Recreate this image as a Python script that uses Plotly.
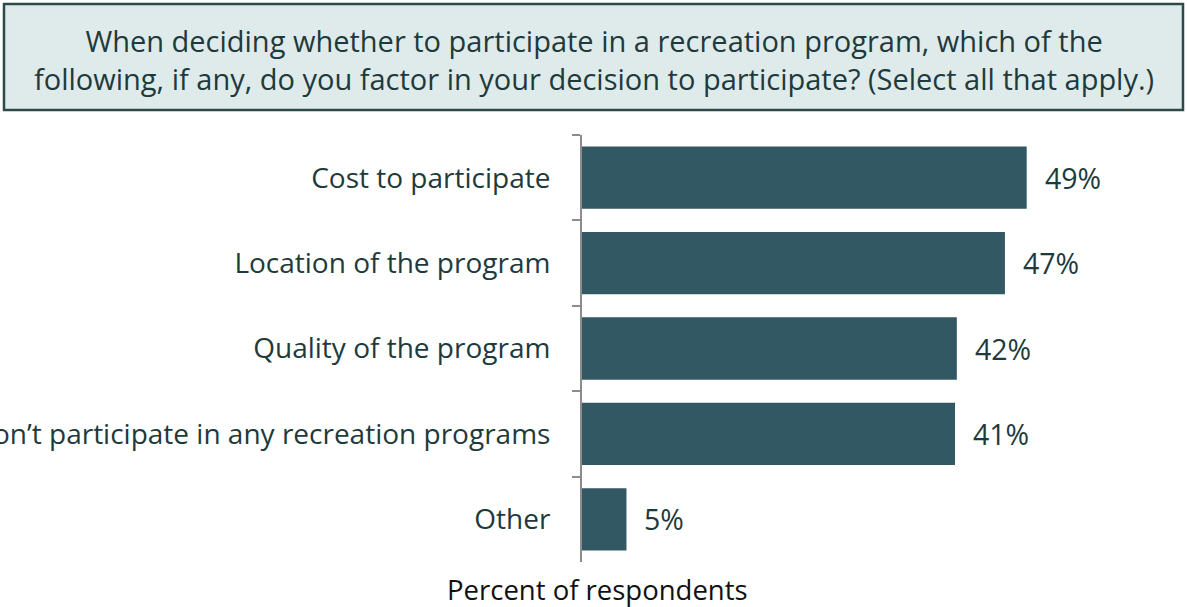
import plotly.graph_objects as go

categories = [
    "Cost to participate",
    "Location of the program",
    "Quality of the program",
    "I don\u2019t participate in any recreation programs",
    "Other",
]
values = [0.490, 0.466, 0.413, 0.411, 0.049]
value_labels = ["49%", "47%", "42%", "41%", "5%"]

title_text = ("When deciding whether to participate in a recreation program, which of the<br>"
              "following, if any, do you factor in your decision to participate? (Select all that apply.)")
x_title = "Percent of respondents"

FONT = "Open Sans"
TXT = "#1e3a3c"
BAR = "#325963"

W, H = 1187, 607
ML, MR, MT, MB = 582, 6, 135, 45
PW = W - ML - MR
PH = H - MT - MB

def px(x):
    return (x - ML) / PW

def py(y):
    return (H - MB - y) / PH

fig = go.Figure()
fig.add_trace(go.Bar(
    y=categories, x=values, orientation="h",
    marker=dict(color=BAR, line=dict(width=0)),
    hoverinfo="skip",
))

annotations = []
for c, v, t in zip(categories, values, value_labels):
    annotations.append(dict(
        x=v, y=c, xref="x", yref="y", text=t, showarrow=False,
        xanchor="left", yanchor="middle", xshift=16,
        font=dict(family=FONT, size=28.5, color=TXT),
    ))

annotations.append(dict(
    x=px(594), y=py(59), xref="paper", yref="paper", text=title_text,
    showarrow=False, xanchor="center", yanchor="middle", align="center",
    font=dict(family=FONT, size=29, color=TXT),
))
annotations.append(dict(
    x=px(597), y=py(589), xref="paper", yref="paper", text=x_title,
    showarrow=False, xanchor="center", yanchor="middle",
    font=dict(family=FONT, size=27.5, color="#111111"),
))

fig.update_layout(
    width=W, height=H,
    margin=dict(l=ML, r=MR, t=MT, b=MB, pad=0, autoexpand=False),
    paper_bgcolor="white", plot_bgcolor="white",
    showlegend=False,
    bargap=0.27,
    annotations=annotations,
    shapes=[dict(
        type="rect", xref="paper", yref="paper",
        x0=px(4), x1=px(1183), y0=py(110), y1=py(4),
        fillcolor="#dfeaeb", line=dict(color="#2e4a48", width=2.5), layer="below",
    )],
    xaxis=dict(range=[0, 0.66], visible=False, fixedrange=True, automargin=False),
    yaxis=dict(
        autorange="reversed", showline=True, linecolor="#8c8c8c", linewidth=2,
        ticks="outside", tickson="boundaries", ticklen=8, tickcolor="#8c8c8c", tickwidth=2,
        ticklabelstandoff=24, showgrid=False, zeroline=False, automargin=False,
        tickfont=dict(family=FONT, size=28, color=TXT), fixedrange=True,
    ),
)

fig.write_html("out.html", config={"displayModeBar": False},
               post_script="document.body.style.margin='0';document.body.style.overflow='hidden';")
